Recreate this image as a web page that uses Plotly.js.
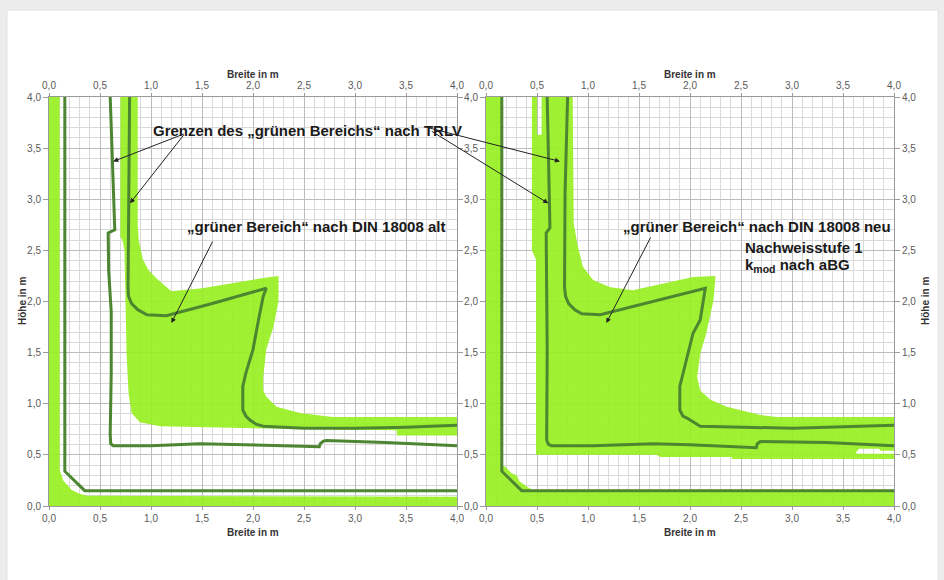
<!DOCTYPE html>
<html>
<head>
<meta charset="utf-8">
<script src="https://cdn.plot.ly/plotly-3.0.1.min.js"></script>
<style>html,body{margin:0;padding:0;background:#ececec;}#chart{width:944px;height:580px;}</style>
</head>
<body>
<div id="chart"></div>
<script>
// ---------- data (metres) ----------
// Left panel: "grüner Bereich" nach DIN 18008 alt
var altStripX = [0, 0, 0.105, 0.105, 0.14, 0.22, 0.30, 0.37, 4.0, 4.0];
var altStripY = [0, 4.0, 4.0, 0.35, 0.25, 0.16, 0.12, 0.10, 0.09, 0];
var altAreaX = [0.70, 0.87, 0.87, 0.88, 0.92, 0.98, 1.06, 1.20, 1.50, 1.90, 2.10, 2.25, 2.25, 2.20, 2.13, 2.10, 2.10, 2.13, 2.23, 2.46, 2.78, 4.0, 4.0, 3.41, 3.41, 2.0, 1.09, 0.89, 0.81, 0.78, 0.76, 0.75, 0.74, 0.72, 0.70];
var altAreaY = [4.0, 4.0, 2.75, 2.60, 2.41, 2.30, 2.22, 2.10, 2.13, 2.20, 2.23, 2.25, 2.00, 1.75, 1.53, 1.26, 1.13, 1.07, 0.97, 0.91, 0.87, 0.87, 0.69, 0.69, 0.74, 0.76, 0.78, 0.82, 0.91, 1.10, 1.50, 2.00, 2.50, 2.60, 2.63];

// Right panel: "grüner Bereich" nach DIN 18008 neu
var neuStripX = [0, 0, 0.16, 0.16, 0.19, 0.25, 0.30, 0.33, 0.40, 0.45, 4.0, 4.0];
var neuStripY = [0, 4.0, 4.0, 0.39, 0.385, 0.32, 0.30, 0.24, 0.19, 0.16, 0.16, 0];
var neuAreaX = [0.45, 0.50, 0.50, 0.545, 0.545, 0.85, 0.86, 0.90, 0.95, 1.05, 1.22, 1.44, 2.03, 2.25, 2.23, 2.16, 2.10, 2.07, 2.10, 2.20, 2.36, 2.69, 2.85, 4.0, 4.0, 3.87, 3.85, 3.66, 3.63, 3.63, 4.0, 4.0, 2.41, 2.41, 1.71, 1.67, 0.49, 0.49, 0.45];
var neuAreaY = [4.0, 4.0, 3.63, 3.63, 4.0, 4.0, 2.76, 2.54, 2.34, 2.21, 2.14, 2.11, 2.24, 2.25, 2.01, 1.69, 1.49, 1.26, 1.13, 1.04, 0.97, 0.89, 0.87, 0.87, 0.54, 0.54, 0.56, 0.56, 0.53, 0.51, 0.51, 0.46, 0.46, 0.48, 0.48, 0.50, 0.50, 2.41, 2.50];

// Grenzen des "grünen Bereichs" nach TRLV
var trlvOuterX = [0.155, 0.155, 0.35, 4.0];
var trlvOuterY = [4.0, 0.34, 0.15, 0.15];

var altMidX = [0.60, 0.62, 0.645, 0.58, 0.585, 0.61, 0.61, 0.60, 0.605, 0.63, 1.0, 1.48, 2.0, 2.3, 2.65, 2.66, 2.69, 2.72, 3.3, 4.0];
var altMidY = [4.0, 3.37, 2.70, 2.67, 2.30, 1.90, 1.30, 0.70, 0.61, 0.59, 0.59, 0.61, 0.60, 0.59, 0.58, 0.61, 0.635, 0.64, 0.62, 0.59];
var altInnerX = [0.79, 0.78, 0.775, 0.78, 0.81, 0.87, 0.96, 1.15, 1.6, 2.13, 2.10, 2.05, 2.0, 1.93, 1.90, 1.90, 1.93, 1.97, 2.03, 2.10, 2.5, 3.0, 3.5, 4.0];
var altInnerY = [4.0, 3.0, 2.14, 2.05, 1.98, 1.92, 1.87, 1.86, 1.98, 2.13, 2.05, 1.80, 1.53, 1.30, 1.17, 0.94, 0.88, 0.84, 0.80, 0.78, 0.76, 0.76, 0.77, 0.79];

var neuMidX = [0.60, 0.62, 0.627, 0.59, 0.60, 0.60, 0.595, 0.61, 0.64, 1.05, 1.64, 2.0, 2.65, 2.66, 2.69, 3.34, 4.0];
var neuMidY = [4.0, 2.96, 2.72, 2.67, 1.82, 1.53, 0.645, 0.605, 0.59, 0.59, 0.61, 0.60, 0.57, 0.61, 0.63, 0.62, 0.59];
var neuInnerX = [0.80, 0.775, 0.77, 0.78, 0.81, 0.87, 0.94, 1.12, 2.15, 2.10, 2.03, 1.90, 1.90, 1.93, 1.97, 2.10, 3.01, 4.0];
var neuInnerY = [4.0, 3.06, 2.14, 2.05, 1.98, 1.92, 1.88, 1.87, 2.13, 1.82, 1.69, 1.17, 0.94, 0.88, 0.86, 0.78, 0.76, 0.79];

var axisTitleX = 'Breite in m';
var axisTitleY = 'Höhe in m';

// ---------- styles ----------
var GREEN = 'rgba(150,238,30,0.9)';
var DARK = '#4d8630';
function fill(x, y, xa, ya) {
  return {x: x, y: y, xaxis: xa, yaxis: ya, type: 'scatter', mode: 'lines', fill: 'toself',
          fillcolor: GREEN, line: {width: 0, color: GREEN}, hoverinfo: 'skip', showlegend: false};
}
function line(x, y, xa, ya) {
  return {x: x, y: y, xaxis: xa, yaxis: ya, type: 'scatter', mode: 'lines',
          line: {width: 3, color: DARK}, hoverinfo: 'skip', showlegend: false};
}
var traces = [
  fill(altStripX, altStripY, 'x', 'y'),
  fill(altAreaX, altAreaY, 'x', 'y'),
  line(trlvOuterX, trlvOuterY, 'x3', 'y'),
  line(altMidX, altMidY, 'x3', 'y'),
  line(altInnerX, altInnerY, 'x3', 'y'),
  fill(neuStripX, neuStripY, 'x2', 'y2'),
  fill(neuAreaX, neuAreaY, 'x2', 'y2'),
  line(trlvOuterX, trlvOuterY, 'x2', 'y3'),
  line(neuMidX, neuMidY, 'x4', 'y2'),
  line(neuInnerX, neuInnerY, 'x4', 'y2')
];

var W = 944, H = 580;
var dLx = [49 / W, 457 / W], dRx = [486 / W, 894 / W], dY = [1 - 506 / H, 1 - 97 / H];
var FAM = 'Liberation Sans, Arial, sans-serif';
var tickFont = {family: FAM, size: 10, color: '#5a5a5a'};
var titleFont = {family: FAM, size: 10, color: '#333', weight: 'bold'};

function baseX(domain, anchor) {
  return {domain: domain, anchor: anchor, range: [0, 4], dtick: 0.5, tick0: 0, tickformat: '.1f',
    showgrid: true, gridcolor: '#bdbdbd', gridwidth: 1, zeroline: false,
    minor: {dtick: 0.1, tick0: 0, showgrid: true, gridcolor: '#d9d9d9', gridwidth: 1},
    showline: true, linecolor: '#9a9a9a', linewidth: 1, mirror: true,
    ticks: 'outside', ticklen: 3, tickcolor: '#9a9a9a', tickfont: tickFont, fixedrange: true};
}
function topX(over) {
  return {overlaying: over, side: 'top', anchor: over === 'x' ? 'y' : 'y2', range: [0, 4], dtick: 0.5, tick0: 0, tickformat: '.1f',
    showgrid: false, zeroline: false, showline: false, ticks: 'outside', ticklen: 3, tickcolor: '#9a9a9a',
    tickfont: tickFont, fixedrange: true};
}
function baseY(anchor, side, grid) {
  var a = {domain: dY, anchor: anchor, side: side, range: [0, 4], dtick: 0.5, tick0: 0, tickformat: '.1f',
    showgrid: grid, gridcolor: '#bdbdbd', gridwidth: 1, zeroline: false,
    showline: grid, linecolor: '#9a9a9a', linewidth: 1, mirror: grid ? 'ticks' : false,
    ticks: 'outside', ticklen: 5, tickcolor: '#9a9a9a', tickfont: tickFont, fixedrange: true};
  if (grid) a.minor = {dtick: 0.1, tick0: 0, showgrid: true, gridcolor: '#d9d9d9', gridwidth: 1};
  return a;
}

var yax3 = baseY('x2', 'left', false);
yax3.overlaying = 'y2';
delete yax3.domain;

var txtFont = {family: FAM, size: 15, color: '#1a1a1a', weight: 'bold'};
function txt(t, xpx, ypx, xanchor) {
  return {text: t, xref: 'paper', yref: 'paper', x: xpx / W, y: 1 - ypx / H, xanchor: xanchor, yanchor: 'middle',
          showarrow: false, font: txtFont};
}
function axTitle(t, xpx, ypx, angle) {
  return {text: t, xref: 'paper', yref: 'paper', x: xpx / W, y: 1 - ypx / H, xanchor: 'center', yanchor: 'middle',
          showarrow: false, textangle: angle, font: titleFont};
}
function arr(xref, yref, x, y, ax, ay) {
  return {text: '', xref: xref, yref: yref, x: x, y: y, ax: ax, ay: ay, showarrow: true,
          arrowhead: 2, arrowsize: 1, arrowwidth: 1, arrowcolor: '#222', standoff: 0};
}

var layout = {
  width: W, height: H, margin: {l: 0, r: 0, t: 0, b: 0},
  paper_bgcolor: '#ececec', plot_bgcolor: 'white', separators: ',.', showlegend: false,
  font: {family: FAM},
  xaxis: baseX(dLx, 'y'),
  xaxis2: baseX(dRx, 'y2'),
  xaxis3: topX('x'),
  xaxis4: topX('x2'),
  yaxis: baseY('x', 'left', true),
  yaxis2: baseY('x2', 'right', true),
  yaxis3: yax3,
  shapes: [{type: 'rect', xref: 'paper', yref: 'paper', x0: 7 / W, x1: 938 / W, y0: -0.05, y1: 1 - 10 / H,
            fillcolor: 'white', line: {width: 1, color: '#e2e2e2'}, layer: 'below'}],
  annotations: [
    axTitle(axisTitleX, 253, 75, 0),
    axTitle(axisTitleX, 690, 75, 0),
    axTitle(axisTitleX, 253, 532, 0),
    axTitle(axisTitleX, 690, 532, 0),
    axTitle(axisTitleY, 22, 301, -90),
    axTitle(axisTitleY, 925, 301, -90),
    txt('Grenzen des \u201Egr\u00FCnen Bereichs\u201C nach TRLV', 151, 130, 'left'),
    txt('\u201Egr\u00FCner Bereich\u201C nach DIN 18008 alt', 185, 227, 'left'),
    txt('\u201Egr\u00FCner Bereich\u201C nach DIN 18008 neu', 621, 227, 'left'),
    txt('Nachweisstufe 1', 743, 247, 'left'),
    txt('k<sub>mod</sub> nach aBG', 743, 265, 'left'),
    arr('x', 'y', 0.63, 3.37, 72, -28),
    arr('x', 'y', 0.794, 2.96, 55, -70),
    arr('x2', 'y2', 0.725, 3.37, -133, -34),
    arr('x2', 'y2', 0.61, 2.96, -118, -73),
    arr('x', 'y', 1.20, 1.79, 42, -83),
    arr('x2', 'y2', 1.18, 1.79, 45, -87)
  ]
};

Plotly.newPlot('chart', traces, layout, {staticPlot: true, displayModeBar: false});
</script>
</body>
</html>
